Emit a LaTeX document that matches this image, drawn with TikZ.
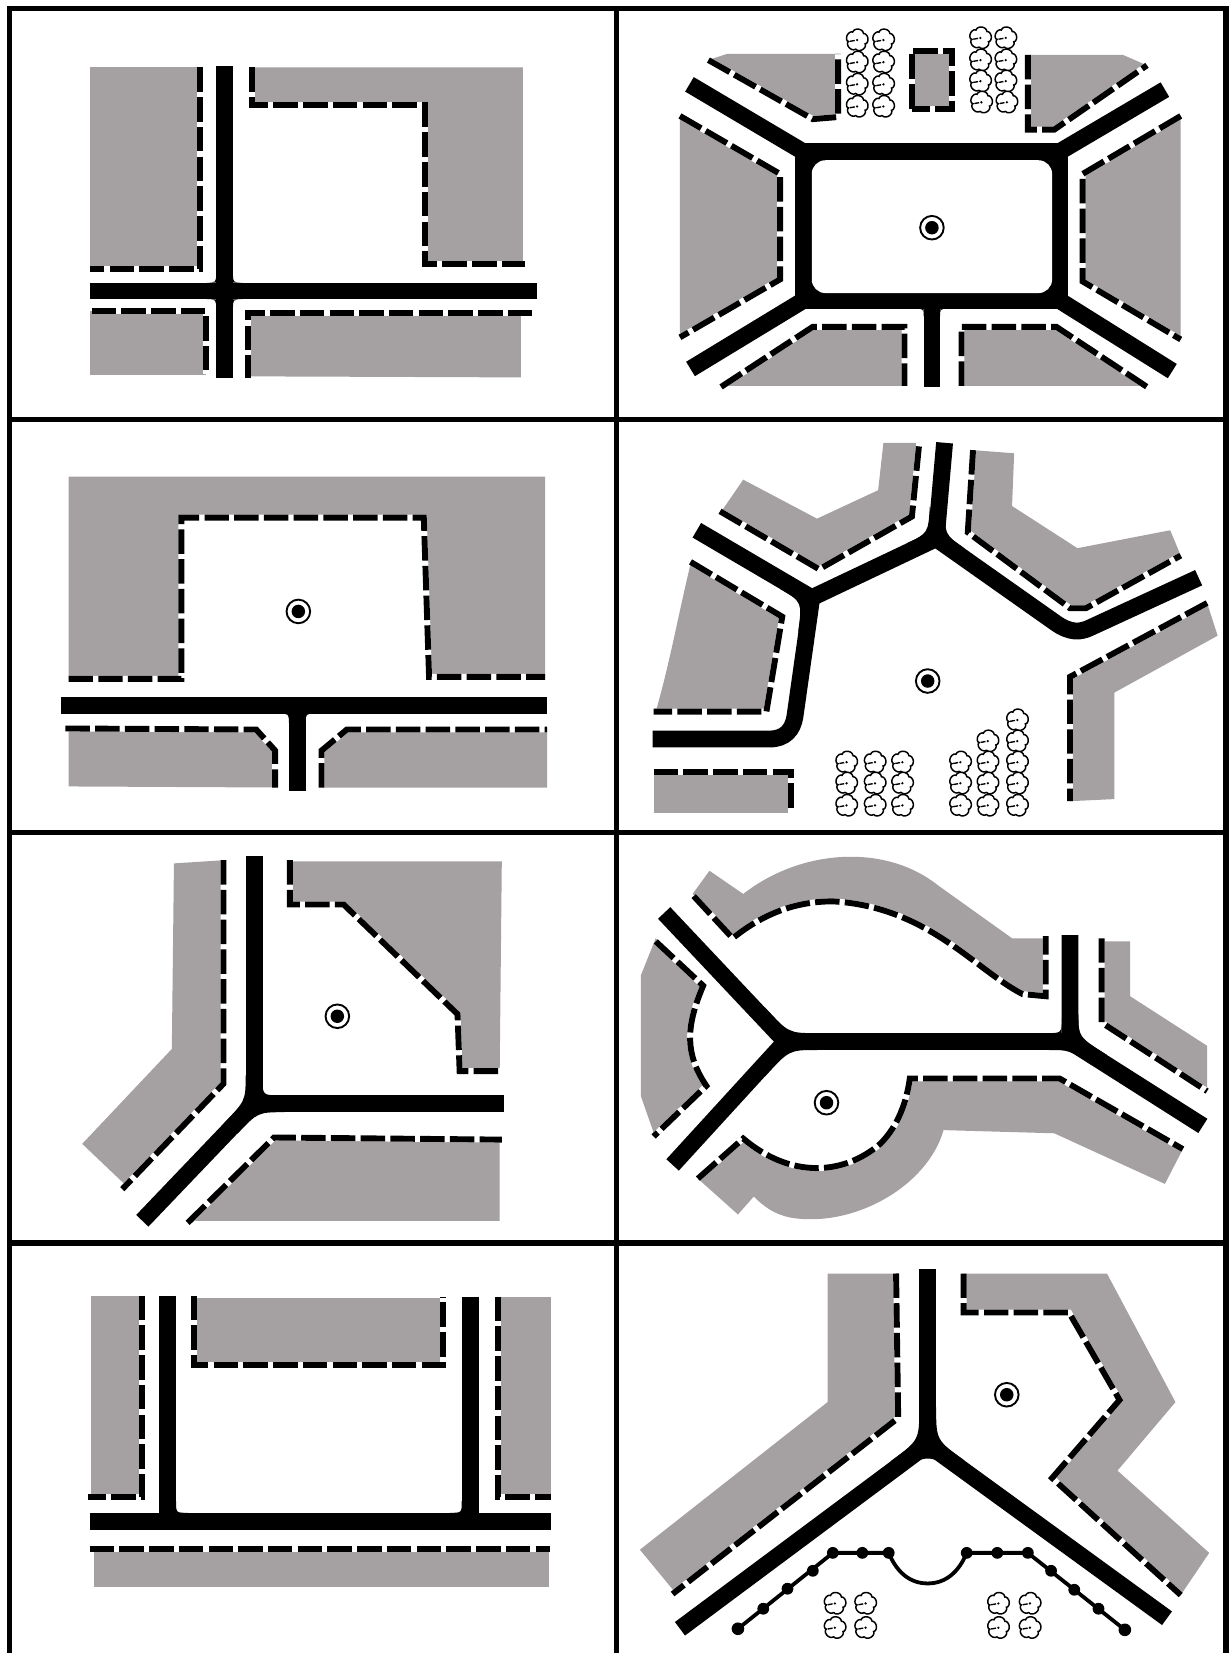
\documentclass[tikz,border=0pt]{standalone}
\definecolor{blockgray}{HTML}{A5A0A1}
\tikzset{
  block/.style={fill=blockgray,draw=none},
  frontage/.style={preaction={draw=white,solid,line width=2.8pt},draw=black,line width=2.8pt,dash pattern=on 11.6pt off 2.5pt,line join=miter,fill=none},
  road/.style={draw=black,line width=8pt,line join=round,fill=none},
  frame/.style={draw=black,line width=2.5pt},
  wall/.style={draw=black,line width=1.8pt,fill=none},
  wallpost/.style={fill=black,draw=none},
  fillet/.style={fill=black,draw=none},
  pics/target/.style={code={
    \draw[black,line width=.9pt,fill=white] (0,0) circle (5.6pt);
    \fill[black] (0,0) circle (3.2pt);}},
  pics/treeblob/.style={code={
    \draw[black,line width=.7pt,fill=white] plot[domain=0:356,samples=72,variable=\t]
      ({(6.8+3.6*sqrt(sqrt(abs(sin(2.5*\t-65)))))*cos(\t)},{(6.8+3.6*sqrt(sqrt(abs(sin(2.5*\t-65)))))*sin(\t)}) -- cycle;
    \fill[black] (0,0) circle (.6pt);
    \draw[black,line width=.65pt] (-6.8,1.2) -- (-2.2,.4);}}
}
\newcommand{\treesat}[1]{\foreach \px/\py in {#1}{\pic at (\px,\py) {treeblob};}}
% concave fillet in the corner (x,y), opening towards (dx,dy), of size r
\newcommand{\filletat}[5]{\fill[fillet] (#1,#2) -- ({#1+#3*#5},#2) .. controls (#1,#2) .. (#1,{#2+#4*#5}) -- cycle;}
\begin{document}
\begin{tikzpicture}[x=.5pt,y=-.5pt]
\useasboundingbox (0,0) rectangle (1165,1568);
\fill[white] (0,0) rectangle (1165,1568);

% Panel 1
\fill[block] (85,64) rectangle (190,255);
\fill[block] (239,64) -- (496,64) -- (496,250) -- (403,250) -- (403,100) -- (239,100) -- cycle;
\fill[block] (85,295) rectangle (195,356);
\fill[block] (235,297) -- (494,297) -- (494,358) -- (235,357) -- cycle;
\draw[frontage] (190,64) -- (190,255) -- (85,255);
\draw[frontage] (239,64) -- (239,100) -- (403,100) -- (403,250) -- (498,250);
\draw[frontage] (87,295) -- (195,295) -- (195,355);
\draw[frontage] (505,297) -- (235,297) -- (235,359);
\draw[road] (85,276) -- (509,276);
\draw[road] (213,63) -- (213,359);
\filletat{205}{268}{-1}{-1}{9}
\filletat{221}{268}{1}{-1}{9}
\filletat{205}{284}{-1}{1}{9}
\filletat{221}{284}{1}{1}{9}

% Panel 2
\fill[block] (672,57) -- (690,51) -- (795,51) -- (795,111) -- (773,111) -- cycle;
\fill[block] (865,48) rectangle (903,103);
\fill[block] (975,52) -- (1065,52) -- (1088,62) -- (1000,122) -- (975,122) -- cycle;
\fill[block] (645,112) -- (740,165) -- (740,265) -- (645,320) -- cycle;
\fill[block] (1120,112) -- (1027,165) -- (1027,267) -- (1120,322) -- cycle;
\fill[block] (771,310) -- (858,310) -- (858,366) -- (690,366) -- cycle;
\fill[block] (912,310) -- (1002,310) -- (1085,366) -- (912,366) -- cycle;
\draw[frontage] (672,57) -- (771,113) -- (795,111) -- (795,51);
\draw[frontage] (865,103) -- (865,48) -- (903,48) -- (903,103) -- cycle;
\draw[frontage] (975,52) -- (975,123) -- (1000,123) -- (1088,62);
\draw[frontage] (645,110) -- (740,165) -- (740,265) -- (645,320);
\draw[frontage] (1120,110) -- (1027,165) -- (1027,267) -- (1120,322);
\draw[frontage] (684,367) -- (771,310) -- (858,310) -- (858,366);
\draw[frontage] (912,366) -- (912,310) -- (1002,310) -- (1088,367);
\fill[black] (762,144) rectangle (1005,285);
\draw[road,line join=round] (762,144) rectangle (1005,285);
\draw[road] (654,80) -- (762,144);
\draw[road] (1105,85) -- (1005,144);
\draw[road] (655,350) -- (762,285);
\draw[road] (1112,352) -- (1005,285);
\draw[road] (884,285) -- (884,367);
\filletat{876}{293}{-1}{1}{7}
\filletat{892}{293}{1}{1}{7}
\fill[white,rounded corners=6.5pt] (770,152) rectangle (998,278);
\pic at (884,216) {target};
\treesat{813/38,838/38,813/59,838/59,813/80,838/80,813/101,838/101,930/36,954/36,930/57,954/57,930/77,954/77,931/97,955/97}

% Panel 3
\fill[block] (65,452) -- (517,452) -- (517,642) -- (406,642) -- (402,491) -- (172,491) -- (172,644) -- (65,644) -- cycle;
\fill[block] (65,692) -- (243,692) -- (261,712) -- (261,747) -- (65,746) -- cycle;
\fill[block] (305,747) -- (305,712) -- (329,692) -- (519,692) -- (519,747) -- cycle;
\draw[frontage] (65,644) -- (172,644) -- (172,491) -- (402,491) -- (407,642) -- (517,642);
\draw[frontage] (62,691) -- (243,692) -- (261,712) -- (261,747);
\draw[frontage] (305,747) -- (305,712) -- (329,692) -- (519,692);
\draw[road] (58,669) -- (519,669);
\draw[road] (282,669) -- (282,750);
\filletat{274}{677}{-1}{1}{9}
\filletat{290}{677}{1}{1}{9}
\pic at (283,580) {target};

% Panel 4
\fill[block] (683,487) -- (705,455) -- (775,492) -- (833,465) -- (838,420) -- (872,420) -- (866,490) -- (777,541) -- cycle;
\fill[block] (923,427) -- (962,430) -- (960,480) -- (1022,520) -- (1110,503) -- (1120,527) -- (1030,578) -- (1015,578) -- (920,505) -- cycle;
\fill[block] (655,535) -- (742,585) -- (727,675) -- (622,675) .. controls (635,630) and (642,590) .. (655,535) -- cycle;
\fill[block] (1015,642) -- (1145,572) -- (1155,603) -- (1057,657) -- (1057,758) -- (1015,760) -- cycle;
\fill[block] (620,732) rectangle (750,771);
\draw[frontage] (683,485) -- (777,540) -- (865,490) -- (872,420);
\draw[frontage] (923,427) -- (918,505) -- (1015,577) -- (1030,577) -- (1120,527);
\draw[frontage] (655,533) -- (742,585) -- (727,675) -- (620,675);
\draw[frontage] (1145,572) -- (1015,642) -- (1015,760);
\draw[frontage] (620,732) -- (750,732) -- (750,771);
\draw[road] (619,701) -- (730,701) .. controls (745,701) and (752,692) .. (754,680) -- (770,567) -- (888,511) -- (896,420);
\draw[road] (661,503) -- (770,567);
\draw[road] (888,511) -- (1000,590) .. controls (1015,601) and (1025,600) .. (1035,595) -- (1137,548);
\fill[fillet] (882,480) .. controls (880.5,505.7) .. (860,515.4) -- (888,511) -- cycle;
\fill[fillet] (898,480) .. controls (895.5,506.5) .. (915,520.2) -- (888,511) -- cycle;
\fill[fillet] (740,558.7) .. controls (761,571) .. (757,600) -- (770,567) -- cycle;
\pic at (880,646) {target};
\treesat{803/723,830/723,856/723,803/743,830/743,856/743,803/764,830/764,856/764,911/723,911/743,911/764,937/703,937/723,937/743,937/764,965/683,965/703,965/723,965/743,965/764}

% Panel 5
\fill[block] (165,819) -- (212,816) -- (212,1025) -- (120,1125) -- (78,1085) -- (163,995) -- cycle;
\fill[block] (275,817) -- (476,817) -- (474,1016) -- (436,1016) -- (434,962) -- (326,858) -- (275,858) -- cycle;
\fill[block] (260,1079) -- (474,1081) -- (474,1158) -- (185,1158) -- cycle;
\draw[frontage] (212,816) -- (212,1028) -- (116,1128);
\draw[frontage] (275,816) -- (275,858) -- (326,858) -- (434,962) -- (436,1016) -- (477,1016);
\draw[frontage] (178,1160) -- (260,1079) -- (476,1081);
\draw[road] (241,812) -- (241,1047);
\draw[road] (241,1047) -- (478,1047);
\draw[road] (135,1158) -- (243,1045);
\filletat{249}{1039}{1}{-1}{17}
\fill[fillet] (233,1020) .. controls (233,1044) .. (212,1066) -- (243,1047) -- cycle;
\fill[fillet] (270,1055) .. controls (244.6,1055) .. (225,1075.6) -- (243,1047) -- cycle;
\pic at (320,964) {target};

% Panel 6
\fill[block] (657,848) -- (673,826) -- (705,848) .. controls (760,805) and (840,800) .. (890,840) -- (960,890) -- (992,890) -- (992,945) -- (970,945) .. controls (925,920) and (880,860) .. (790,855) .. controls (750,855) and (720,870) .. (695,890) -- cycle;
\fill[block] (608,925) -- (622,890) -- (667,935) .. controls (650,975) and (650,1000) .. (670,1030) -- (622,1080) -- (608,1040) -- cycle;
\fill[block] (1047,893) -- (1072,893) -- (1072,945) -- (1145,992) -- (1145,1035) -- (1045,970) -- cycle;
\fill[block] (662,1118) -- (705,1080) .. controls (750,1118) and (800,1115) .. (835,1085) .. controls (852,1068) and (860,1045) .. (863,1023) -- (1005,1023) -- (1122,1090) -- (1105,1123) -- (1000,1075) -- (895,1072) .. controls (880,1125) and (810,1165) .. (750,1155) .. controls (735,1152) and (725,1145) .. (715,1135) -- (700,1152) -- cycle;
\draw[frontage] (658,850) -- (695,890) .. controls (720,870) and (750,855) .. (790,855) .. controls (880,860) and (925,920) .. (970,943) -- (992,945) -- (992,888);
\draw[frontage] (622,893) -- (667,935) .. controls (650,975) and (650,1000) .. (670,1030) -- (620,1078);
\draw[frontage] (1045,890) -- (1045,970) -- (1145,1035);
\draw[frontage] (662,1118) -- (705,1080) .. controls (750,1118) and (800,1115) .. (835,1085) .. controls (852,1068) and (860,1045) .. (863,1023) -- (1005,1023) -- (1122,1090);
\draw[road] (630,866) -- (745,988);
\draw[road] (638,1105) -- (745,988);
\draw[road] (745,988) -- (1015,988);
\draw[road] (1015,887) -- (1015,988) -- (1141,1068);
\fill[fillet] (725,955) .. controls (748,980) .. (775,980) -- (745,988) -- cycle;
\fill[fillet] (775,996) .. controls (748.5,996) .. (725,1021.7) -- (745,988) -- cycle;
\filletat{1007}{980}{-1}{-1}{14}
\fill[fillet] (1023,962) .. controls (1023,983.6) .. (1050,1000.7) -- (1015,988) -- cycle;
\fill[fillet] (995,996) .. controls (1014,996) .. (1035,1010) -- (1015,988) -- cycle;
\pic at (784,1046) {target};

% Panel 7
\fill[block] (86,1229) rectangle (135,1420);
\fill[block] (184,1231) rectangle (420,1295);
\fill[block] (472,1230) rectangle (523,1420);
\fill[block] (89,1469) rectangle (521,1505);
\draw[frontage] (135,1229) -- (135,1420) -- (83,1420);
\draw[frontage] (184,1229) -- (184,1295) -- (420,1295) -- (420,1230);
\draw[frontage] (472,1230) -- (472,1420) -- (523,1420);
\draw[frontage] (85,1469) -- (522,1469);
\draw[road] (85,1443) -- (523,1443);
\draw[road] (159,1229) -- (159,1443);
\draw[road] (446,1230) -- (446,1443);
\filletat{167}{1435}{1}{-1}{11}
\filletat{438}{1435}{-1}{-1}{11}

% Panel 8
\fill[block] (785,1208) -- (850,1208) -- (852,1345) -- (640,1510) -- (607,1470) -- (785,1330) -- cycle;
\fill[block] (914,1208) -- (1050,1208) -- (1115,1330) -- (1060,1395) -- (1147,1473) -- (1120,1513) -- (998,1402) -- (1062,1328) -- (1014,1245) -- (914,1245) -- cycle;
\draw[frontage] (850,1208) -- (852,1345) -- (638,1512);
\draw[frontage] (914,1208) -- (914,1245) -- (1014,1245) -- (1062,1328) -- (998,1402) -- (1120,1513);
\draw[road] (880,1204) -- (880,1370);
\draw[road] (645,1545) -- (880,1370) -- (1107,1535);
\fill[fillet] (872,1335) .. controls (872,1366) .. (845,1386) -- (880,1380) -- cycle;
\fill[fillet] (888,1335) .. controls (888,1366) .. (915,1385.5) -- (880,1380) -- cycle;
\fill[fillet] (866,1388) .. controls (876,1382) and (884,1382) .. (894,1388) -- (880,1370) -- cycle;
\pic at (955,1323) {target};
\draw[wall] (700,1545) -- (790,1473) -- (843,1473) .. controls (850,1490) and (862,1502) .. (880,1502) .. controls (898,1502) and (910,1490) .. (917,1473) -- (975,1473) -- (1067,1546);
\foreach \px/\py in {724/1526,747/1507,771/1490,790/1473,818/1473,843/1473,917/1473,946/1473,975/1473,997/1490,1019/1508,1042/1526}{\fill[wallpost] (\px,\py) circle (2.8pt);}
\fill[wallpost] (700,1545) circle (3pt);
\fill[wallpost] (1067,1546) circle (3pt);
\treesat{792/1521,821/1521,792/1544,821/1544,947/1521,977/1521,947/1544,977/1544}

% Grid
\draw[frame] (9,1569) -- (9,8) -- (1163,8) -- (1163,1569);
\draw[frame] (585,8) -- (585,1569);
\draw[frame] (9,398) -- (1163,398);
\draw[frame] (9,790) -- (1163,790);
\draw[frame] (9,1179) -- (1163,1179);
\end{tikzpicture}
\end{document}
